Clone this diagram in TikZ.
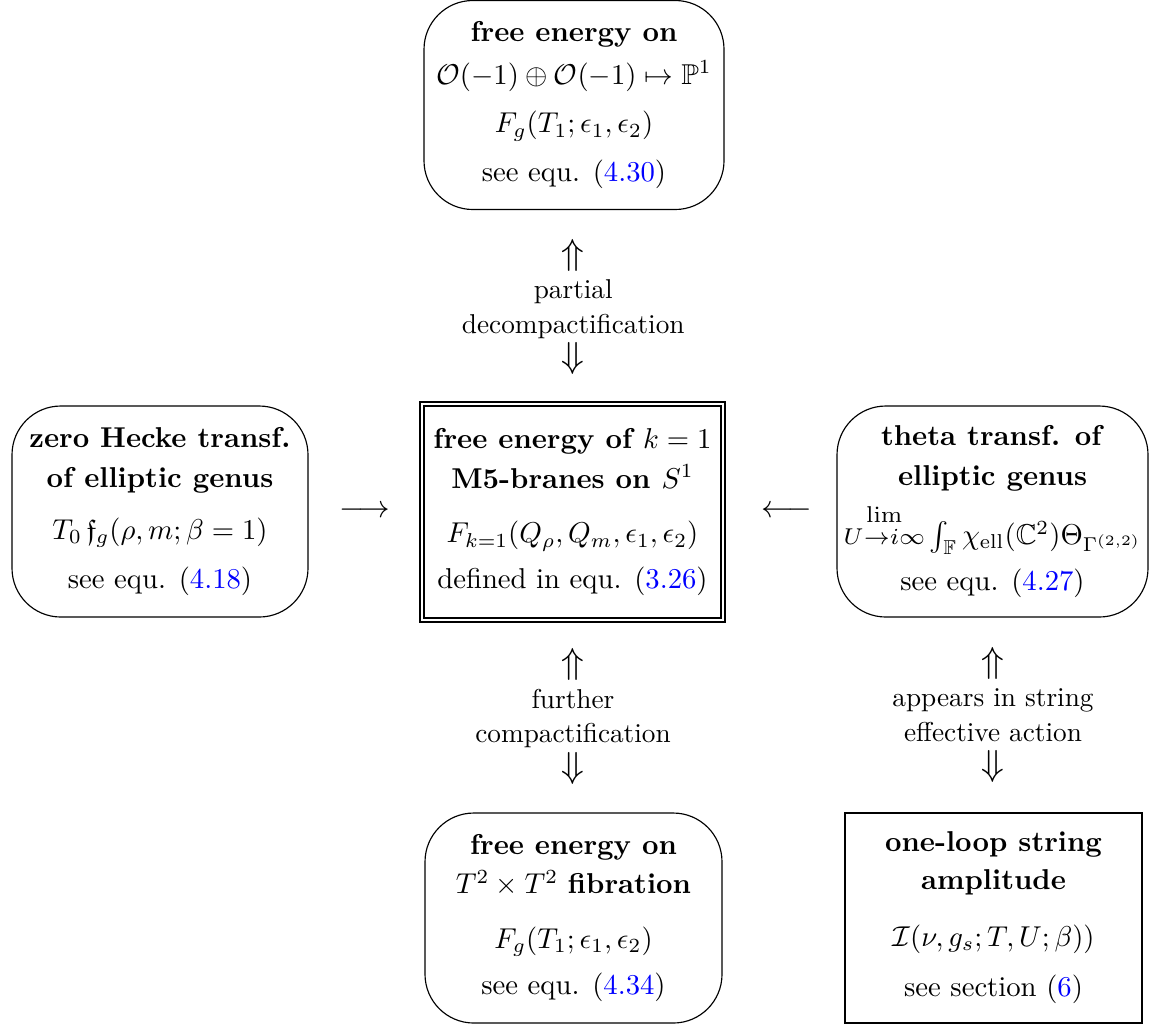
\documentclass[tikz,border=0pt]{standalone}
\usepackage{amsmath,amssymb}
\usepackage{graphicx}
\newcommand{\pxu}{0.34843pt}
\definecolor{linkblue}{rgb}{0,0,1}
\newcommand{\lk}[1]{(\textcolor{linkblue}{#1})}
\newcommand{\upA}{\scalebox{1.4}{$\Uparrow$}}
\newcommand{\dnA}{\scalebox{1.4}{$\Downarrow$}}
\tikzset{
  every node/.style={inner sep=0pt, outer sep=0pt},
  rbox/.style={draw, line width=0.4pt, rounded corners=17pt, align=center},
  sbox/.style={draw, line width=0.4pt, align=center},
  dbox/.style={draw, line width=0.4pt, double, double distance=1pt, align=center},
  lbl/.style={align=center, font=\fontsize{9.5}{12}\selectfont},
  arr/.style={font=\normalsize},
}
\begin{document}
\begin{tikzpicture}[x=0.34843pt, y=-0.34843pt]
\useasboundingbox (0,0) rectangle (1153,1030);

\node[rbox, minimum width=300*\pxu, minimum height=209*\pxu] (top) at (574,105)
  {\textbf{free energy on}\\[3pt]
   $\mathcal{O}(-1)\oplus\mathcal{O}(-1)\mapsto\mathbb{P}^1$\\[5pt]
   $F_g(T_1;\epsilon_1,\epsilon_2)$\\[5pt]
   see equ. \lk{4.30}};

\node[rbox, minimum width=296*\pxu, minimum height=211*\pxu] (lt) at (160,511.5)
  {\textbf{zero Hecke transf.}\\[2pt]
   \textbf{of elliptic genus}\\[6pt]
   $T_0\,\mathfrak{f}_g(\rho,m;\beta=1)$\\[5pt]
   see equ. \lk{4.18}};

\node[dbox, minimum width=301*\pxu, minimum height=216*\pxu] (ctr) at (572.5,512)
  {\textbf{free energy of $k=1$}\\[2pt]
   \textbf{M5-branes on $S^1$}\\[7pt]
   $F_{k=1}(Q_\rho,Q_m,\epsilon_1,\epsilon_2)$\\[4pt]
   defined in equ. \lk{3.26}};

\node[rbox, minimum width=311*\pxu, minimum height=211*\pxu] (rt) at (992.5,511.5)
  {\textbf{theta transf. of}\\[2pt]
   \textbf{elliptic genus}\\[3pt]
   \scalebox{1.14}{$\overset{\lim}{\scriptstyle U\rightarrow i\infty}$}\,$\int_{\mathbb{F}}\chi_{\mathrm{ell}}(\mathbb{C}^2)\Theta_{\Gamma^{(2,2)}}$\\[4pt]
   see equ. \lk{4.27}};

\node[rbox, minimum width=297*\pxu, minimum height=210*\pxu] (bc) at (573.5,918)
  {\textbf{free energy on}\\[1.5pt]
   $T^2\times T^2$ \textbf{fibration}\\[7pt]
   $F_g(T_1;\epsilon_1,\epsilon_2)$\\[4pt]
   see equ. \lk{4.34}};

\node[sbox, minimum width=297*\pxu, minimum height=210*\pxu] (br) at (993.5,918)
  {\textbf{one-loop string}\\[1pt]
   \textbf{amplitude}\\[8pt]
   $\mathcal{I}(\nu,g_s;T,U;\beta))$\\[5.5pt]
   see section \lk{6}};

\path (top) -- (ctr) node[lbl, midway] (l1)
  {\upA\\ partial\\ decompactification\\ \dnA};
\path (ctr) -- (bc) node[lbl, midway] (l2)
  {\upA\\ further\\ compactification\\ \dnA};
\path (rt) -- (br) node[lbl, midway] (l3)
  {\upA\\ appears in string\\ effective action\\ \dnA};
\path (lt) -- (ctr) node[arr, midway] (a1) {\scalebox{1.1}{$\longrightarrow$}};
\path (rt) -- (ctr) node[arr, pos=0.44] (a2) {\scalebox{1.1}{$\longleftarrow$}};
\end{tikzpicture}
\end{document}
